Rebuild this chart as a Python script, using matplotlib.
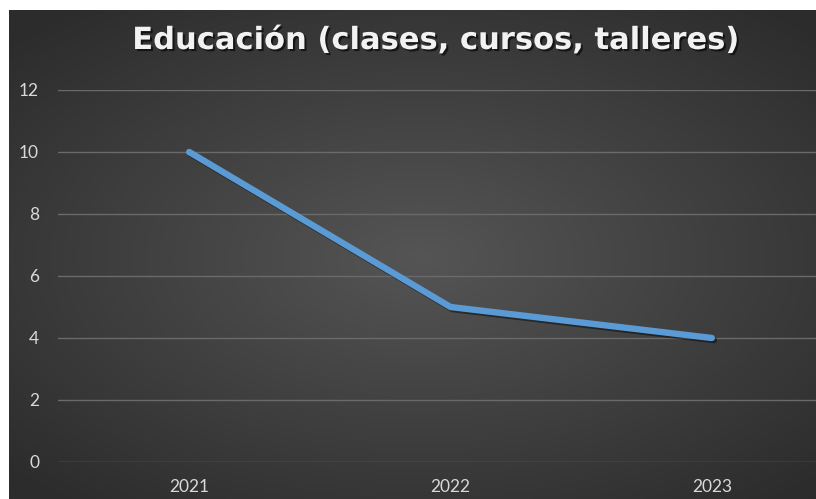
import numpy as np
import matplotlib
matplotlib.use("Agg")
import matplotlib.pyplot as plt
import matplotlib.patheffects as pe

# datos
anios = ["2021", "2022", "2023"]
valores = [10, 5, 4]
y_ticks = [0, 2, 4, 6, 8, 10, 12]
titulo = "Educación (clases, cursos, talleres)"

W, H = 816, 499
fig = plt.figure(figsize=(W / 100, H / 100), dpi=100, facecolor="white")

# fondo con degradado radial
bg = fig.add_axes([9 / W, -0.01, 1.02 - 9 / W, 1.01 - 10 / H])
gx, gy = np.meshgrid(np.linspace(-1, 1, 400), np.linspace(-1, 1, 250))
d = np.sqrt((gx * 0.95) ** 2 + (gy * 1.0) ** 2)
d = np.clip(d / 1.3, 0, 1)
c0, c1 = np.array([0x55, 0x55, 0x55]) / 255, np.array([0x2c, 0x2c, 0x2c]) / 255
img = c0[None, None, :] * (1 - d[..., None]) + c1[None, None, :] * d[..., None]
bg.imshow(img, aspect="auto", extent=[0, 1, 0, 1], interpolation="bicubic")
bg.axis("off")

# área de trazado
left, right = 58.5 / W, 842.5 / W
bottom, top = (H - 462) / H, (H - 90) / H
ax = fig.add_axes([left, bottom, right - left, top - bottom])
ax.patch.set_alpha(0)
for s in ax.spines.values():
    s.set_visible(False)

x = np.arange(len(anios))
ax.plot(x, valores, color="#5B9BD5", lw=4.6, solid_capstyle="round",
        solid_joinstyle="round", zorder=3,
        path_effects=[pe.SimpleLineShadow(offset=(1.5, -1.5), shadow_color="black", alpha=0.45),
                      pe.Normal()])

ax.set_xlim(-0.5, 2.5)
ax.set_ylim(0, 12)
ax.set_yticks(y_ticks)
ax.set_xticks(x)
ax.set_xticklabels(anios)
ax.yaxis.grid(True, color="#6a6a6a", lw=1.0)
ax.set_axisbelow(True)
ax.tick_params(length=0, colors="#d9d9d9", labelsize=12.5)
ax.tick_params(axis="y", pad=14)
ax.tick_params(axis="x", pad=12)
for lab in ax.get_xticklabels() + ax.get_yticklabels():
    lab.set_family("Lato")

fig.text(435 / W, 1 - 49 / H, titulo, ha="center", va="baseline", color="#f2f2f2",
         fontsize=22, fontweight="bold", family="DejaVu Sans",
         path_effects=[pe.withSimplePatchShadow(offset=(1.5, -1.5), shadow_rgbFace="black", alpha=0.6)])

fig.savefig("out.png", dpi=100, facecolor="white")
